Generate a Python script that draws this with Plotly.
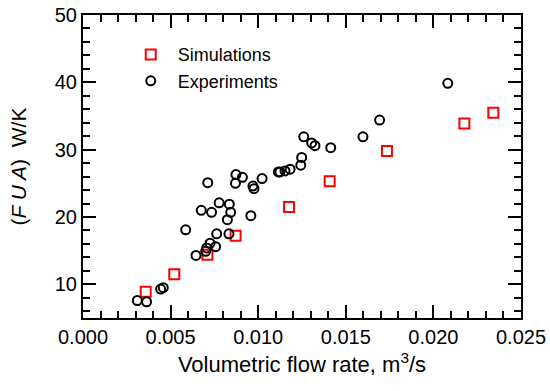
import plotly.graph_objects as go

# Simulations (red squares)
sim_flow = [0.00358, 0.00521, 0.00710, 0.00871, 0.01176, 0.01408, 0.01735, 0.02177, 0.02342]
sim_fua = [8.9, 11.5, 14.4, 17.2, 21.5, 25.3, 29.8, 33.9, 35.5]

# Experiments (black circles)
exp_flow = [0.00310, 0.00363, 0.00443, 0.00458, 0.00586, 0.00645, 0.00700, 0.00706, 0.00725,
            0.00757, 0.00763, 0.00833, 0.00824, 0.00843, 0.00675, 0.00734, 0.00777, 0.00835,
            0.00958, 0.00712, 0.00873, 0.00910, 0.00870, 0.00970, 0.00976, 0.01022, 0.01115,
            0.01124, 0.01153, 0.01182, 0.01243, 0.01248, 0.01260, 0.01305, 0.01324, 0.01414,
            0.01598, 0.01693, 0.02082]
exp_fua = [7.6, 7.4, 9.3, 9.5, 18.1, 14.3, 14.9, 15.4, 16.1,
           15.6, 17.5, 17.5, 19.6, 20.7, 21.0, 20.7, 22.1, 21.9,
           20.2, 25.1, 26.3, 25.9, 25.0, 24.6, 24.2, 25.7, 26.7,
           26.7, 26.85, 27.1, 27.7, 28.85, 31.9, 31.0, 30.6, 30.3,
           31.9, 34.4, 39.85]

x_min, x_max = 0.0, 0.025
y_min, y_max = 5, 50
font_family = "Arial, 'Liberation Sans', sans-serif"

fig = go.Figure()
fig.add_trace(go.Scatter(x=sim_flow, y=sim_fua, mode="markers", name="Simulations",
    marker=dict(symbol="square-open", size=10, color="#ff0000", line=dict(width=2, color="#ff0000"))))
fig.add_trace(go.Scatter(x=exp_flow, y=exp_fua, mode="markers", name="Experiments",
    marker=dict(symbol="circle-open", size=9, color="#000000", line=dict(width=2, color="#000000"))))

tick_style = dict(ticks="inside", ticklen=13, tickwidth=2, tickcolor="black",
                  showline=True, linecolor="black", linewidth=2, mirror="allticks",
                  showgrid=False, zeroline=False)
minor_style = dict(ticks="inside", ticklen=7, tickwidth=2, tickcolor="black", showgrid=False)

fig.update_layout(
    xaxis=dict(
        autorange=True, autorangeoptions=dict(minallowed=x_min, maxallowed=x_max),
        nticks=6, tickformat=".3f",
        minor=minor_style,
        tickfont=dict(family=font_family, size=20, color="black"),
        title=dict(text="Volumetric flow rate, m<sup>3</sup>/s", font=dict(family=font_family, size=22, color="black"), standoff=10),
        **tick_style,
    ),
    yaxis=dict(
        autorange=True, autorangeoptions=dict(minallowed=y_min, maxallowed=y_max),
        nticks=5,
        minor=minor_style,
        tickfont=dict(family=font_family, size=20, color="black"),
        title=dict(text="(<i>F U A</i>)&nbsp; W/K", font=dict(family=font_family, size=21, color="black"), standoff=22),
        **tick_style,
    ),
    width=550, height=391,
    margin=dict(l=83, r=29, t=15, b=73, autoexpand=False),
    paper_bgcolor="white", plot_bgcolor="white",
    font=dict(family=font_family, color="black"),
    legend=dict(x=0.093, y=0.93, xanchor="left", yanchor="top",
        font=dict(family=font_family, size=18, color="black"),
        bgcolor="rgba(0,0,0,0)", tracegroupgap=0, itemwidth=44),
)

fig.write_html("out.html", config={"displayModeBar": False},
               post_script="document.body.style.margin='0px';")
